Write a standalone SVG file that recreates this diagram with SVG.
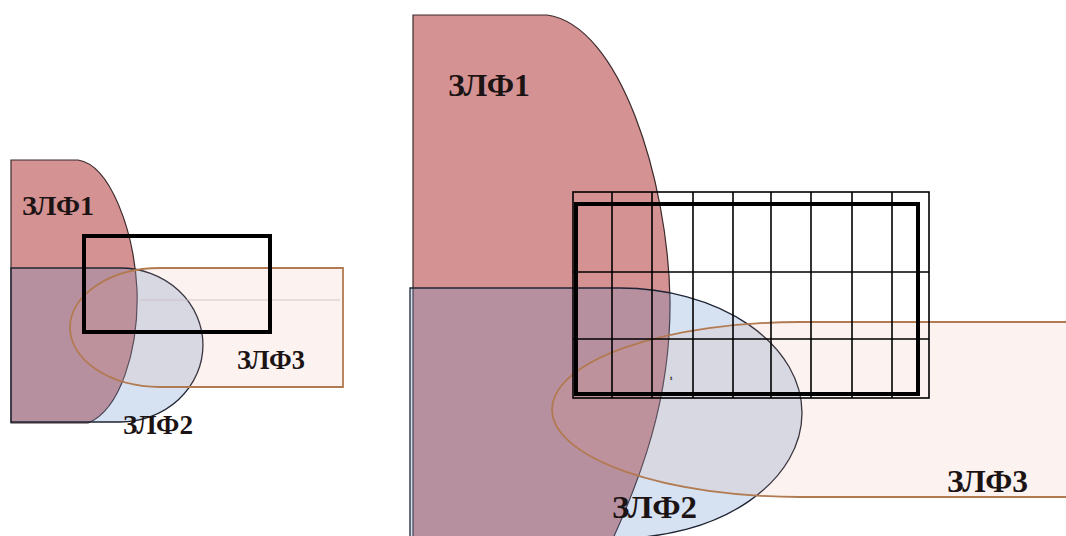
<svg xmlns="http://www.w3.org/2000/svg" width="1066" height="536" viewBox="0 0 1066 536">
  <style>
    .z1 { fill: #d59292; stroke: #3b2a2c; stroke-width: 1.2; }
    .z2 { fill: rgba(96,140,200,0.26); stroke: #1e2433; stroke-width: 1.3; }
    .z3 { fill: rgba(235,165,140,0.14); stroke: #b27a50; stroke-width: 1.8; }
    .frame { fill: none; stroke: #000; stroke-width: 4; }
    .grid { fill: none; stroke: #000; stroke-width: 1.6; }
    .faint { stroke: #c9bcbc; stroke-width: 0.8; }
    .lbl { font-family: "Liberation Serif", "Times New Roman", serif; font-weight: bold; fill: #1c1414; }
    .s { font-size: 27px; }
    .b { font-size: 32px; }
  </style>

  <!-- small scheme -->
  <g id="small-zlf1">
    <path class="z1" d="M11,160 H78 C110,165 134,230 137,290 C139,350 120,410 88,423 H11 Z"/>
  </g>
  <g id="small-zlf2">
    <path class="z2" d="M11,268 H120 A83,77 0 0 1 120,422 H11 Z"/>
  </g>
  <g id="small-zlf3">
    <path class="z3" d="M343,268 H160 A90,59.5 0 0 0 160,387 H343 Z"/>
    <line class="faint" x1="140" y1="300" x2="340" y2="300"/>
  </g>
  <g id="small-frame">
    <rect class="frame" x="84" y="236" width="186" height="96"/>
  </g>
  <g id="small-labels">
    <text class="lbl s" x="22" y="215" textLength="72" lengthAdjust="spacingAndGlyphs">ЗЛФ1</text>
    <text class="lbl s" x="237" y="369" textLength="68" lengthAdjust="spacingAndGlyphs">ЗЛФ3</text>
    <text class="lbl s" x="123" y="434" textLength="70" lengthAdjust="spacingAndGlyphs">ЗЛФ2</text>
  </g>

  <!-- large scheme -->
  <g id="big-zlf1">
    <path class="z1" d="M413,15 H547 C620,25 668,180 670,300 C671,400 640,480 610,545 H413 Z"/>
  </g>
  <g id="big-zlf2">
    <path class="z2" d="M410,288 H620 A182,125 0 0 1 620,538 H410 Z"/>
  </g>
  <g id="big-zlf3">
    <path class="z3" d="M1070,322 H800 A248,87.5 0 0 0 800,497 H1070"/>
  </g>
  <g id="big-grid">
    <rect class="grid" x="573" y="192" width="356" height="206" stroke-width="1.2"/>
    <line class="grid" x1="612" y1="192" x2="612" y2="398"/>
    <line class="grid" x1="652" y1="192" x2="652" y2="398"/>
    <line class="grid" x1="693" y1="192" x2="693" y2="398"/>
    <line class="grid" x1="733" y1="192" x2="733" y2="398"/>
    <line class="grid" x1="771" y1="192" x2="771" y2="398"/>
    <line class="grid" x1="811" y1="192" x2="811" y2="398"/>
    <line class="grid" x1="852" y1="192" x2="852" y2="398"/>
    <line class="grid" x1="892" y1="192" x2="892" y2="398"/>
    <line class="grid" x1="573" y1="272" x2="929" y2="272"/>
    <line class="grid" x1="573" y1="339" x2="929" y2="339"/>
    <rect class="frame" x="576" y="204" width="342" height="190"/>
  </g>
  <g id="big-labels">
    <text class="lbl b" x="448" y="96" textLength="82" lengthAdjust="spacingAndGlyphs">ЗЛФ1</text>
    <text class="lbl b" x="612" y="518" textLength="85" lengthAdjust="spacingAndGlyphs">ЗЛФ2</text>
    <text class="lbl b" x="947" y="492" textLength="81" lengthAdjust="spacingAndGlyphs">ЗЛФ3</text>
    <text class="lbl" x="670" y="380" font-size="7">t</text>
  </g>
</svg>
